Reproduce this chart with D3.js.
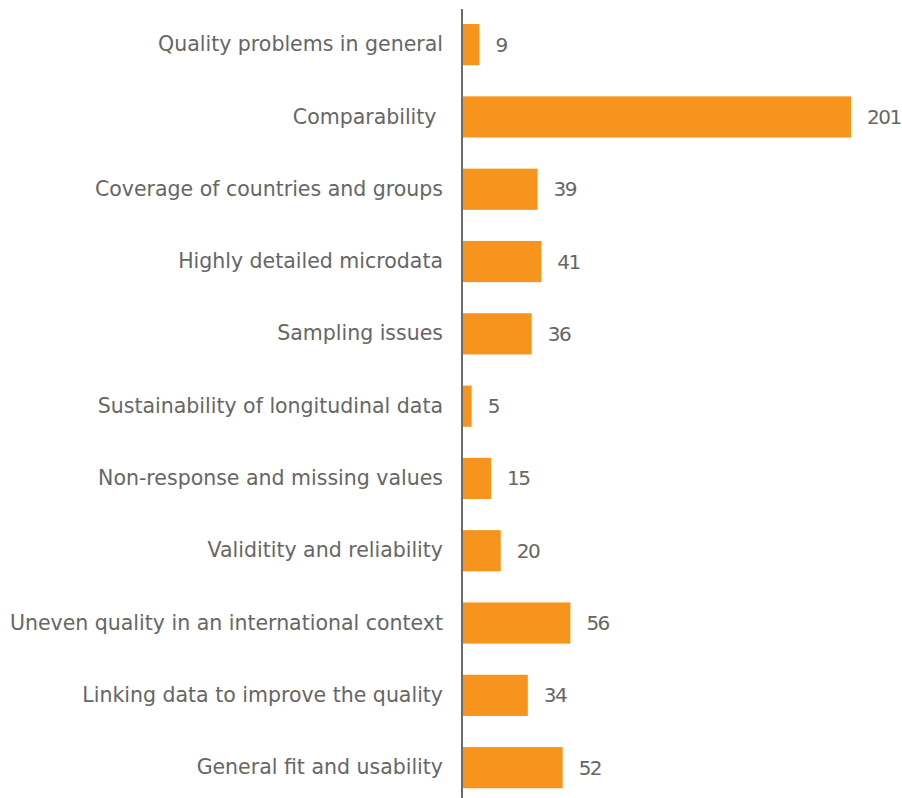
<!DOCTYPE html>
<html>
<head>
<meta charset="utf-8">
<script src="https://cdn.jsdelivr.net/npm/d3@7"></script>
<style>
  html, body { margin: 0; padding: 0; background: #fff; }
  svg { display: block; }
  text { font-family: "DejaVu Sans", sans-serif; fill: #666; white-space: pre; }
</style>
</head>
<body>
<svg id="chart" width="902" height="798"></svg>
<script>
// Issues raised, by category
const categories = [
  "Quality problems in general",
  "Comparability ",
  "Coverage of countries and groups",
  "Highly detailed microdata",
  "Sampling issues",
  "Sustainability of longitudinal data",
  "Non-response and missing values",
  "Validitity and reliability",
  "Uneven quality in an international context",
  "Linking data to improve the quality",
  "General fit and usability"
];
const counts = [9, 201, 39, 41, 36, 5, 15, 20, 56, 34, 52];

const W = 902, H = 798;
const svg = d3.select("#chart");

const x = d3.scaleLinear().domain([0, d3.max(counts)]).range([462, 851]);
const y = d3.scaleBand().domain(categories).range([8.5, 803.8])
  .paddingInner(0.43).paddingOuter(0.215);

const rows = categories.map((c, i) => ({ c, v: counts[i] }));

// bars
svg.append("g").selectAll("rect").data(rows).join("rect")
  .attr("x", x(0))
  .attr("y", d => y(d.c))
  .attr("width", d => x(d.v) - x(0))
  .attr("height", y.bandwidth())
  .attr("fill", "#F7941D");

// category axis
const axis = svg.append("g").attr("transform", `translate(${x(0)},0)`)
  .call(d3.axisLeft(y).tickSize(0).tickPadding(19));
axis.select(".domain").remove();
axis.append("line")
  .attr("x1", 0).attr("x2", 0).attr("y1", 9).attr("y2", H)
  .attr("stroke", "#6b6b6b").attr("stroke-width", 2);
axis.selectAll(".tick text")
  .attr("font-family", "DejaVu Sans, sans-serif")
  .attr("font-size", 20.5)
  .attr("fill", "#666")
  .style("white-space", "pre");

// value labels
svg.append("g").selectAll("text").data(rows).join("text")
  .attr("x", d => x(d.v) + 16)
  .attr("y", d => y(d.c) + y.bandwidth() / 2)
  .attr("dy", "0.35em")
  .attr("font-size", 20)
  .attr("letter-spacing", -1.5)
  .text(d => d.v);
</script>
</body>
</html>
